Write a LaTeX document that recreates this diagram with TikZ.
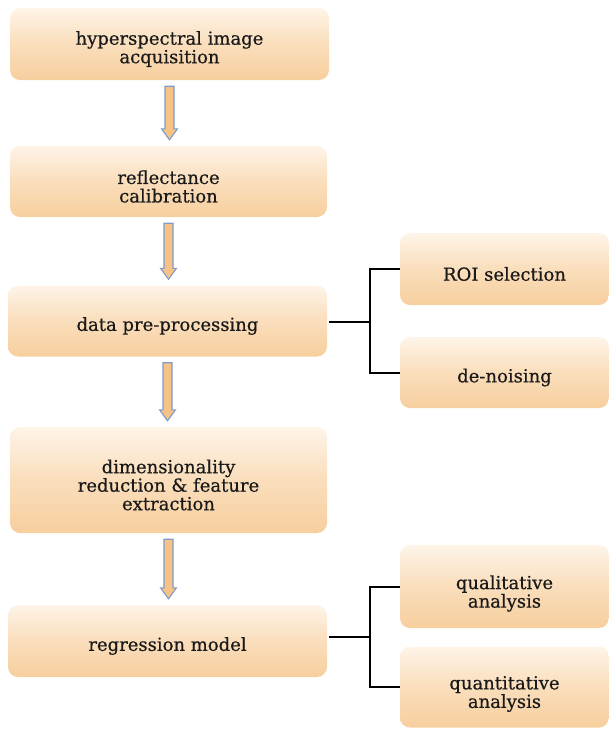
\documentclass[tikz,border=0pt]{standalone}
\usepackage{fontspec}
\setmainfont{DejaVu Serif}
\newfontfamily\boxfont{DejaVu Serif}[FakeBold=0.5]
\usetikzlibrary{calc}
\definecolor{boxtop}{HTML}{FEF4E8}
\definecolor{boxbot}{HTML}{F7CF9E}
\definecolor{arrfill}{HTML}{F6C286}
\definecolor{arrline}{HTML}{7F9BCB}
\tikzset{
  stepbox/.style={rounded corners=10pt, top color=boxtop, bottom color=boxbot,
    middle color=boxbot!60!boxtop, draw=none, inner sep=0pt},
  boxtext/.style={align=center, inner sep=0pt, text=black!90,
    font=\boxfont\fontsize{18}{18.5}\selectfont},
  link/.style={line width=2pt, black},
  blockarr/.style={fill=arrfill, draw=arrline, line width=1.1pt, line join=miter}
}
\newcommand{\blockarrow}[2]{%
  \path let \p1=(#1.south), \p2=(#2.north) in
  [blockarr] (\x1-4.5pt,\y1-6pt) -- (\x1+4.5pt,\y1-6pt) -- (\x1+4.5pt,\y2+17pt)
  -- (\x1+8pt,\y2+17pt) -- (\x1,\y2+6pt) -- (\x1-8pt,\y2+17pt) -- (\x1-4.5pt,\y2+17pt) -- cycle;}
\begin{document}
\begin{tikzpicture}[x=1pt,y=-1pt]
\useasboundingbox (0,0) rectangle (609,729);
\node[stepbox, minimum width=319pt, minimum height=72pt,
  label={[boxtext,yshift=-5pt]center:{hyperspectral image\\acquisition}}] (a) at (169.5,44) {};
\node[stepbox, minimum width=317pt, minimum height=71pt,
  label={[boxtext,yshift=-5pt]center:{reflectance\\calibration}}] (b) at (168.5,181.5) {};
\node[stepbox, minimum width=319pt, minimum height=71pt,
  label={[boxtext,yshift=-5pt]center:{data pre-processing}}] (c) at (167.5,321) {};
\node[stepbox, minimum width=317pt, minimum height=106pt,
  label={[boxtext,yshift=-5pt]center:{dimensionality\\reduction \& feature\\extraction}}] (d) at (168.5,480) {};
\node[stepbox, minimum width=319pt, minimum height=72pt,
  label={[boxtext,yshift=-5pt]center:{regression model}}] (e) at (167.5,641) {};
\node[stepbox, minimum width=209pt, minimum height=72pt,
  label={[boxtext,yshift=-5pt]center:{ROI selection}}] (roi) at (504.5,269) {};
\node[stepbox, minimum width=209pt, minimum height=71pt,
  label={[boxtext,yshift=-5pt]center:{de-noising}}] (den) at (504.5,372.5) {};
\node[stepbox, minimum width=209pt, minimum height=83pt,
  label={[boxtext,yshift=-7pt]center:{qualitative\\analysis}}] (qual) at (504.5,586.5) {};
\node[stepbox, minimum width=209pt, minimum height=81pt,
  label={[boxtext,yshift=-7pt]center:{quantitative\\analysis}}] (quan) at (504.5,687) {};
\blockarrow{a}{b}
\blockarrow{b}{c}
\blockarrow{c}{d}
\blockarrow{d}{e}
\coordinate (j1) at (370,322);
\coordinate (j2) at (370,637);
\draw[link] ([xshift=2pt]c.east |- j1) -- (j1);
\draw[link] (roi.west) -| (j1) |- (den.west);
\draw[link] ([xshift=2pt]e.east |- j2) -- (j2);
\draw[link] (qual.west) -| (j2) |- (quan.west);
\end{tikzpicture}
\end{document}
